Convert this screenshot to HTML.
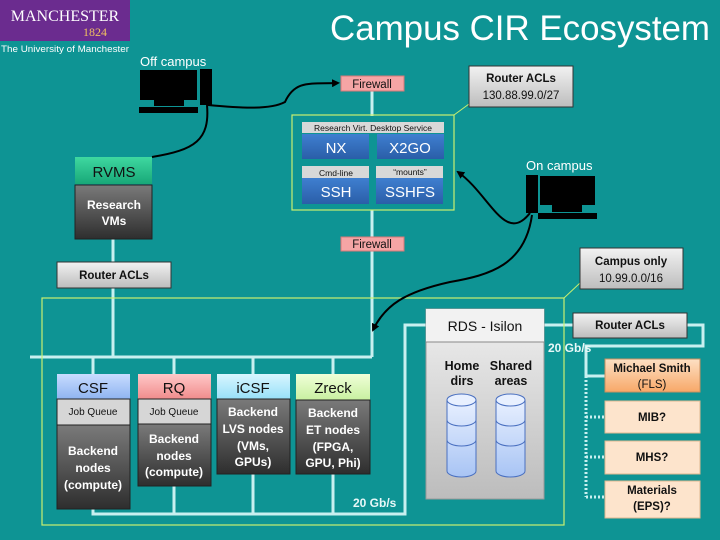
<!DOCTYPE html>
<html><head><meta charset="utf-8"><style>
html,body{margin:0;padding:0;background:#0e9494;width:720px;height:540px;overflow:hidden}
svg{display:block}
text{font-family:"Liberation Sans",sans-serif}
</style></head><body>
<svg width="720" height="540" viewBox="0 0 720 540" xmlns="http://www.w3.org/2000/svg">
<defs>
<linearGradient id="gray" x1="0" y1="0" x2="0" y2="1"><stop offset="0" stop-color="#f2f2f2"/><stop offset="1" stop-color="#bdbdbd"/></linearGradient>
<linearGradient id="dark" x1="0" y1="0" x2="0" y2="1"><stop offset="0" stop-color="#7a7a7a"/><stop offset="1" stop-color="#2e2e2e"/></linearGradient>
<linearGradient id="blue" x1="0" y1="0" x2="0" y2="1"><stop offset="0" stop-color="#3f7fd0"/><stop offset="1" stop-color="#2a5ea8"/></linearGradient>
<linearGradient id="green" x1="0" y1="0" x2="0" y2="1"><stop offset="0" stop-color="#3fd8a0"/><stop offset="1" stop-color="#18a878"/></linearGradient>
<linearGradient id="csf" x1="0" y1="0" x2="0" y2="1"><stop offset="0" stop-color="#c8dcff"/><stop offset="1" stop-color="#8fb4f0"/></linearGradient>
<linearGradient id="rq" x1="0" y1="0" x2="0" y2="1"><stop offset="0" stop-color="#ffc8c8"/><stop offset="1" stop-color="#f08c8c"/></linearGradient>
<linearGradient id="icsf" x1="0" y1="0" x2="0" y2="1"><stop offset="0" stop-color="#d8f6ff"/><stop offset="1" stop-color="#98e0f8"/></linearGradient>
<linearGradient id="zr" x1="0" y1="0" x2="0" y2="1"><stop offset="0" stop-color="#f0ffd8"/><stop offset="1" stop-color="#c8f0a0"/></linearGradient>
<linearGradient id="rds" x1="0" y1="0" x2="0" y2="1"><stop offset="0" stop-color="#f0f0f0"/><stop offset="1" stop-color="#bcbcbc"/></linearGradient>
<linearGradient id="or" x1="0" y1="0" x2="0" y2="1"><stop offset="0" stop-color="#fde0c4"/><stop offset="1" stop-color="#f7a868"/></linearGradient>
<linearGradient id="cyl" x1="0" y1="0" x2="0" y2="1"><stop offset="0" stop-color="#e8f0ff"/><stop offset="1" stop-color="#a8c4f4"/></linearGradient>
<marker id="ah" markerWidth="8" markerHeight="8" refX="6" refY="4" orient="auto" markerUnits="userSpaceOnUse"><path d="M0,0 L8,4 L0,8 z" fill="#000"/></marker>
</defs>

<rect x="0" y="0" width="130" height="41" fill="#6b2c8f"/>
<text x="65" y="21" font-size="16" fill="#fff" text-anchor="middle" style="font-family:'Liberation Serif',serif">MANCHESTER</text>
<text x="95" y="36" font-size="12" fill="#f0c060" text-anchor="middle" style="font-family:'Liberation Serif',serif">1824</text>
<text x="1" y="52" font-size="9.5" fill="#fff" textLength="128" lengthAdjust="spacingAndGlyphs">The University of Manchester</text>

<text x="710" y="40" font-size="35" fill="#fff" text-anchor="end" textLength="380" lengthAdjust="spacingAndGlyphs">Campus CIR Ecosystem</text>

<text x="140" y="66" font-size="13" fill="#fff">Off campus</text>
<text x="526" y="170" font-size="13" fill="#fff">On campus</text>

<g stroke="#c8f0f0" stroke-width="3" fill="none">
<line x1="372" y1="90" x2="372" y2="116"/>
<line x1="372" y1="210" x2="372" y2="238"/>
<line x1="372" y1="251" x2="372" y2="357"/>
<line x1="113" y1="239" x2="113" y2="262"/>
<line x1="113" y1="288" x2="113" y2="357"/>
<line x1="30" y1="357" x2="372" y2="357"/>
<line x1="93" y1="357" x2="93" y2="374"/>
<line x1="174" y1="357" x2="174" y2="374"/>
<line x1="253" y1="357" x2="253" y2="374"/>
<line x1="333" y1="357" x2="333" y2="374"/>
<polyline points="93,509 93,514 405,514 405,325 426,325"/>
<line x1="174" y1="486" x2="174" y2="514"/>
<line x1="253" y1="474" x2="253" y2="514"/>
<line x1="333" y1="474" x2="333" y2="514"/>
<polyline points="544,325 573,325"/>
<polyline points="687,325 703,325 703,346 586,346 586,376 605,376"/>
</g>
<g stroke="#c8f0f0" stroke-width="3" fill="none" stroke-dasharray="2,2">
<polyline points="586,376 586,497"/>
<line x1="586" y1="417" x2="605" y2="417"/>
<line x1="586" y1="457" x2="605" y2="457"/>
<line x1="586" y1="497" x2="605" y2="497"/>
</g>

<rect x="42" y="298" width="522" height="227" fill="none" stroke="#c8f070" stroke-width="1.2"/>
<line x1="564" y1="298" x2="580" y2="283" stroke="#c8f070" stroke-width="1"/>
<rect x="292" y="115" width="162" height="95" fill="none" stroke="#c8f070" stroke-width="1.2"/>
<line x1="454" y1="115" x2="469" y2="104" stroke="#c8f070" stroke-width="1"/>

<g fill="#000">
<rect x="140" y="70" width="57" height="30"/><rect x="154" y="100" width="30" height="6"/><rect x="139" y="107" width="59" height="6"/>
<rect x="200" y="69" width="12" height="36"/>
<rect x="526" y="175" width="12" height="38"/>
<rect x="540" y="176" width="55" height="29"/><rect x="552" y="205" width="30" height="7"/><rect x="538" y="213" width="59" height="6"/>
</g>

<g stroke="#000" stroke-width="2" fill="none">
<path d="M208,105 C240,108 270,110 285,102 C295,80 310,84 338,83" marker-end="url(#ah)"/>
<path d="M207,105 C210,140 195,150 152,157"/>
<path d="M530,213 C505,245 490,195 458,172" marker-end="url(#ah)"/>
<path d="M532,215 C525,265 490,275 450,282 C405,292 385,305 373,330" marker-end="url(#ah)"/>
</g>

<rect x="341" y="76" width="63" height="15" fill="#f5a5a5" stroke="#d87878"/>
<text x="372" y="88" font-size="11.5" text-anchor="middle" fill="#111">Firewall</text>
<rect x="341" y="237" width="63" height="14" fill="#f5a5a5" stroke="#d87878"/>
<text x="372" y="248" font-size="11.5" text-anchor="middle" fill="#111">Firewall</text>

<rect x="469" y="66" width="104" height="41" fill="url(#gray)" stroke="#333"/>
<text x="521" y="82" font-size="11.5" font-weight="bold" text-anchor="middle" fill="#111">Router ACLs</text>
<text x="521" y="99" font-size="11.5" text-anchor="middle" fill="#111">130.88.99.0/27</text>
<rect x="57" y="262" width="114" height="26" fill="url(#gray)" stroke="#333"/>
<text x="114" y="279" font-size="11.5" font-weight="bold" text-anchor="middle" fill="#111">Router ACLs</text>
<rect x="580" y="248" width="103" height="41" fill="url(#gray)" stroke="#333"/>
<text x="631" y="265" font-size="11.5" font-weight="bold" text-anchor="middle" fill="#111">Campus only</text>
<text x="631" y="282" font-size="11.5" text-anchor="middle" fill="#111">10.99.0.0/16</text>
<rect x="573" y="313" width="114" height="25" fill="url(#gray)" stroke="#333"/>
<text x="630" y="329" font-size="11.5" font-weight="bold" text-anchor="middle" fill="#111">Router ACLs</text>

<rect x="302" y="122" width="142" height="11" fill="#d8d8d8"/>
<text x="373" y="131" font-size="8.5" text-anchor="middle" fill="#111">Research Virt. Desktop Service</text>
<rect x="302" y="134" width="67" height="25" fill="url(#blue)"/><text x="336" y="153" font-size="15" text-anchor="middle" fill="#fff">NX</text>
<rect x="377" y="134" width="67" height="25" fill="url(#blue)"/><text x="410" y="153" font-size="15" text-anchor="middle" fill="#fff">X2GO</text>
<rect x="302" y="166" width="67" height="12" fill="#d8d8d8"/><text x="336" y="176" font-size="8.5" text-anchor="middle" fill="#111">Cmd-line</text>
<rect x="376" y="166" width="67" height="12" fill="#d8d8d8"/><text x="410" y="175" font-size="8.5" text-anchor="middle" fill="#111">“mounts”</text>
<rect x="302" y="178" width="67" height="26" fill="url(#blue)"/><text x="336" y="197" font-size="15" text-anchor="middle" fill="#fff">SSH</text>
<rect x="376" y="178" width="67" height="26" fill="url(#blue)"/><text x="410" y="197" font-size="15" text-anchor="middle" fill="#fff">SSHFS</text>

<rect x="75" y="157" width="77" height="27" fill="url(#green)"/>
<text x="114" y="177" font-size="15" text-anchor="middle" fill="#111">RVMS</text>
<rect x="75" y="185" width="77" height="54" fill="url(#dark)" stroke="#222"/>
<text x="114" y="209" font-size="12" font-weight="bold" text-anchor="middle" fill="#fff">Research</text>
<text x="114" y="225" font-size="12" font-weight="bold" text-anchor="middle" fill="#fff">VMs</text>

<rect x="57" y="374" width="73" height="25" fill="url(#csf)"/><text x="93" y="393" font-size="15" text-anchor="middle" fill="#111">CSF</text>
<rect x="57" y="399" width="73" height="26" fill="#d6d6d6" stroke="#222"/><text x="93" y="415" font-size="10" text-anchor="middle" fill="#111">Job Queue</text>
<rect x="57" y="425" width="73" height="84" fill="url(#dark)" stroke="#222"/>
<text x="93" y="455" font-size="12" font-weight="bold" text-anchor="middle" fill="#fff">Backend</text>
<text x="93" y="472" font-size="12" font-weight="bold" text-anchor="middle" fill="#fff">nodes</text>
<text x="93" y="489" font-size="12" font-weight="bold" text-anchor="middle" fill="#fff">(compute)</text>

<rect x="138" y="374" width="73" height="25" fill="url(#rq)"/><text x="174" y="393" font-size="15" text-anchor="middle" fill="#111">RQ</text>
<rect x="138" y="399" width="73" height="25" fill="#d6d6d6" stroke="#222"/><text x="174" y="415" font-size="10" text-anchor="middle" fill="#111">Job Queue</text>
<rect x="138" y="424" width="73" height="62" fill="url(#dark)" stroke="#222"/>
<text x="174" y="443" font-size="12" font-weight="bold" text-anchor="middle" fill="#fff">Backend</text>
<text x="174" y="460" font-size="12" font-weight="bold" text-anchor="middle" fill="#fff">nodes</text>
<text x="174" y="476" font-size="12" font-weight="bold" text-anchor="middle" fill="#fff">(compute)</text>

<rect x="217" y="374" width="73" height="25" fill="url(#icsf)"/><text x="253" y="393" font-size="15" text-anchor="middle" fill="#111">iCSF</text>
<rect x="217" y="399" width="73" height="75" fill="url(#dark)" stroke="#222"/>
<text x="253" y="416" font-size="12" font-weight="bold" text-anchor="middle" fill="#fff">Backend</text>
<text x="253" y="433" font-size="12" font-weight="bold" text-anchor="middle" fill="#fff">LVS nodes</text>
<text x="253" y="450" font-size="12" font-weight="bold" text-anchor="middle" fill="#fff">(VMs,</text>
<text x="253" y="466" font-size="12" font-weight="bold" text-anchor="middle" fill="#fff">GPUs)</text>

<rect x="296" y="374" width="74" height="26" fill="url(#zr)"/><text x="333" y="393" font-size="15" text-anchor="middle" fill="#111">Zreck</text>
<rect x="296" y="400" width="74" height="74" fill="url(#dark)" stroke="#222"/>
<text x="333" y="417" font-size="12" font-weight="bold" text-anchor="middle" fill="#fff">Backend</text>
<text x="333" y="434" font-size="12" font-weight="bold" text-anchor="middle" fill="#fff">ET nodes</text>
<text x="333" y="451" font-size="12" font-weight="bold" text-anchor="middle" fill="#fff">(FPGA,</text>
<text x="333" y="467" font-size="12" font-weight="bold" text-anchor="middle" fill="#fff">GPU, Phi)</text>

<text x="353" y="507" font-size="12" font-weight="bold" fill="#e8f8f8">20 Gb/s</text>
<text x="548" y="352" font-size="12" font-weight="bold" fill="#e8f8f8">20 Gb/s</text>

<rect x="426" y="309" width="118" height="190" fill="url(#rds)" stroke="#999"/>
<rect x="426" y="309" width="118" height="33" fill="#f2f2f2"/>
<line x1="426" y1="342" x2="544" y2="342" stroke="#888"/>
<text x="485" y="331" font-size="14" text-anchor="middle" fill="#111">RDS - Isilon</text>
<text x="462" y="370" font-size="12.5" font-weight="bold" text-anchor="middle" fill="#111">Home</text>
<text x="462" y="385" font-size="12.5" font-weight="bold" text-anchor="middle" fill="#111">dirs</text>
<text x="511" y="370" font-size="12.5" font-weight="bold" text-anchor="middle" fill="#111">Shared</text>
<text x="511" y="385" font-size="12.5" font-weight="bold" text-anchor="middle" fill="#111">areas</text>
<g stroke="#4a70c0" stroke-width="1" fill="url(#cyl)">
<path d="M447,400 v71 a14.5,6 0 0 0 29,0 v-71 z"/><ellipse cx="461.5" cy="400" rx="14.5" ry="6" fill="#e8f0ff"/>
<path d="M447,420 a14.5,6 0 0 0 29,0" fill="none"/><path d="M447,440 a14.5,6 0 0 0 29,0" fill="none"/>
<path d="M496,400 v71 a14.5,6 0 0 0 29,0 v-71 z"/><ellipse cx="510.5" cy="400" rx="14.5" ry="6" fill="#e8f0ff"/>
<path d="M496,420 a14.5,6 0 0 0 29,0" fill="none"/><path d="M496,440 a14.5,6 0 0 0 29,0" fill="none"/>
</g>

<rect x="605" y="359" width="95" height="33" fill="url(#or)" stroke="#c89060"/>
<text x="652" y="372" font-size="11.5" font-weight="bold" text-anchor="middle" fill="#111">Michael Smith</text>
<text x="652" y="388" font-size="11.5" text-anchor="middle" fill="#111">(FLS)</text>
<rect x="605" y="401" width="95" height="32" fill="#fde4cc" stroke="#e0b890"/>
<text x="652" y="421" font-size="11.5" font-weight="bold" text-anchor="middle" fill="#111">MIB?</text>
<rect x="605" y="441" width="95" height="33" fill="#fde4cc" stroke="#e0b890"/>
<text x="652" y="461" font-size="11.5" font-weight="bold" text-anchor="middle" fill="#111">MHS?</text>
<rect x="605" y="481" width="95" height="37" fill="#fde4cc" stroke="#e0b890"/>
<text x="652" y="494" font-size="11.5" font-weight="bold" text-anchor="middle" fill="#111">Materials</text>
<text x="652" y="510" font-size="11.5" font-weight="bold" text-anchor="middle" fill="#111">(EPS)?</text>
</svg>
</body></html>
